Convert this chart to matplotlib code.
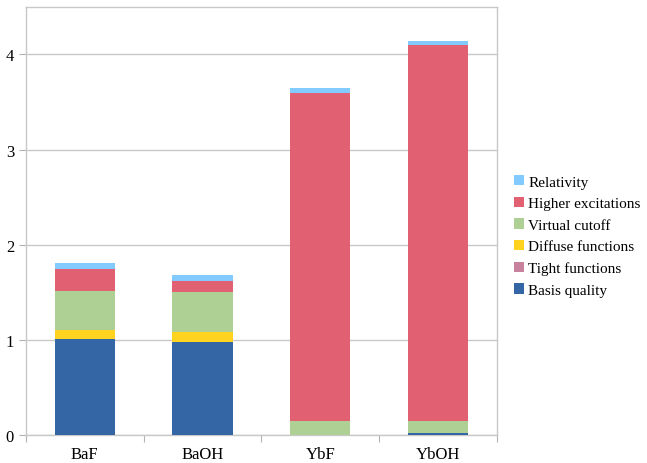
import numpy as np
import matplotlib.pyplot as plt

# molecules on the x axis
molecules = ["BaF", "BaOH", "YbF", "YbOH"]

# contributions per molecule, stacked bottom to top
basis_quality = [1.01, 0.98, 0.0, 0.02]
tight_functions = [0.0, 0.0, 0.0, 0.0]
diffuse_functions = [0.10, 0.10, 0.0, 0.0]
virtual_cutoff = [0.405, 0.42, 0.15, 0.13]
higher_excitations = [0.235, 0.115, 3.44, 3.95]
relativity = [0.06, 0.065, 0.06, 0.045]

series_names = ["Basis quality", "Tight functions", "Diffuse functions",
                "Virtual cutoff", "Higher excitations", "Relativity"]
series_colors = ["#3465a4", "#c9829e", "#ffd320", "#afd095", "#e16173", "#83caff"]

plt.rcParams['font.family'] = ['Liberation Serif', 'DejaVu Serif']

fig = plt.figure(figsize=(6.47, 4.64), dpi=100)
ax = fig.add_axes([0.040, 0.060, 0.728, 0.923])

x = np.arange(len(molecules))
bottom = np.zeros(len(molecules))
handles = []
for name, vals, col in zip(series_names,
                           [basis_quality, tight_functions, diffuse_functions,
                            virtual_cutoff, higher_excitations, relativity],
                           series_colors):
    vals = np.array(vals)
    b = ax.bar(x, vals, 0.51, bottom=bottom, color=col, label=name,
               edgecolor="none", zorder=3)
    handles.append(b)
    bottom = bottom + vals

ax.set_xlim(-0.5, 3.5)
ax.set_ylim(0, 4.5)
ax.set_yticks([0, 1, 2, 3, 4])
ax.yaxis.grid(True, color="#c8c8c8", linewidth=1)
ax.set_axisbelow(True)

# category boundary ticks, labels in the middle
ax.set_xticks(np.arange(-0.5, 4, 1.0))
ax.set_xticklabels([])
ax.set_xticks(x, minor=True)
ax.set_xticklabels(molecules, minor=True, fontsize=12)
ax.tick_params(axis="x", which="major", length=5, color="#b3b3b3")
ax.tick_params(axis="x", which="minor", length=0, pad=8)
ax.tick_params(axis="y", length=5, color="#b3b3b3", labelsize=12, pad=3.5)

for s in ax.spines.values():
    s.set_color("#c8c8c8")
    s.set_linewidth(1)

ax.legend(handles[::-1], series_names[::-1], loc="center left",
          bbox_to_anchor=(1.0, 0.465), frameon=False, fontsize=11,
          handlelength=0.65, handleheight=0.65, handletextpad=0.3,
          labelspacing=0.53, borderaxespad=0.7)

fig.savefig("out.png", dpi=100)
